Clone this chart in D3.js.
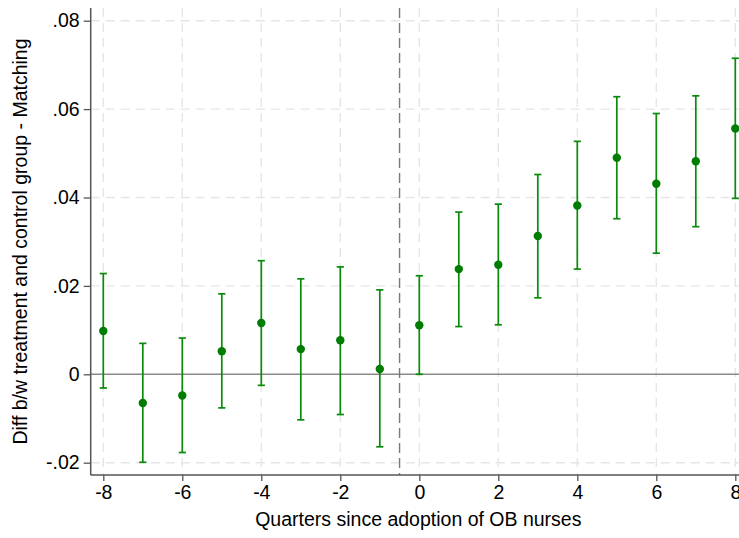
<!DOCTYPE html>
<html>
<head>
<meta charset="utf-8">
<script src="https://cdn.jsdelivr.net/npm/d3@7"></script>
<style>
	body { margin: 0; background: #fff; }
	svg { display: block; font-family: "Liberation Sans", Arial, sans-serif; }
</style>
</head>
<body>
<div id="evtViz"><svg></svg></div>
<script>
// event study estimates
var quarters = [-8, -7, -6, -5, -4, -3, -2, -1, 0, 1, 2, 3, 4, 5, 6, 7, 8];
var coef = [0.0098, -0.0065, -0.0048, 0.0052, 0.0116, 0.0057, 0.0077, 0.0012, 0.0111,
	0.0238, 0.0248, 0.0313, 0.0382, 0.0490, 0.0431, 0.0482, 0.0556];
var ciLow = [-0.0031, -0.0199, -0.0177, -0.0076, -0.0025, -0.0103, -0.0091, -0.0164, 0.0000,
	0.0108, 0.0112, 0.0173, 0.0238, 0.0352, 0.0274, 0.0334, 0.0398];
var ciHigh = [0.0228, 0.0070, 0.0082, 0.0182, 0.0257, 0.0216, 0.0243, 0.0191, 0.0223,
	0.0367, 0.0385, 0.0452, 0.0527, 0.0628, 0.0590, 0.0630, 0.0715];

var xTicks = [-8, -6, -4, -2, 0, 2, 4, 6, 8];
var yTicks = [-0.02, 0, 0.02, 0.04, 0.06, 0.08];
var yTickLabels = ["-.02", "0", ".02", ".04", ".06", ".08"];
var adoptionLine = -0.5;

;(function(){
	var w = 739;
	var h = 538;
	var r = 4.2;
	var cap = 3.6;
	var green = "#0a8a0a";
	var dotGreen = "#007c00";
	var fontSize = 19.5;

	var svg = d3.select("#evtViz svg")
		.attr("width", w)
		.attr("height", h);

	// 1) scales (pixel ranges measured from the reference)
	var xscale = d3.scaleLinear().domain([-8, 8]).range([103.3, 735.3]);
	var yscale = d3.scaleLinear().domain([-0.02, 0.08]).range([462.7, 20.7]);

	var plotLeft = 90.7;
	var plotRight = w;
	var plotTop = 8;
	var plotBottom = 475;

	var rows = quarters.map(function(q, i){
		return {q: q, b: coef[i], lo: ciLow[i], hi: ciHigh[i]};
	});

	// plain hyphen minus, like the reference (d3 would give U+2212)
	function fmtY(d){
		return yTickLabels[yTicks.indexOf(d)];
	}
	function fmtX(d){
		return String(d);
	}

	// 2) background grid
	svg.selectAll("line.y-grid")
		.data(yTicks.filter(function(d){ return d != 0; }))
		.enter().append("line")
			.attr("class", "y-grid")
			.attr("x1", plotLeft)
			.attr("x2", plotRight)
			.attr("y1", function(d){ return yscale(d); })
			.attr("y2", function(d){ return yscale(d); })
			.attr("stroke", "#e6e6e6")
			.attr("stroke-width", 1.4)
			.attr("stroke-dasharray", "9,6");

	svg.selectAll("line.x-grid")
		.data(xTicks)
		.enter().append("line")
			.attr("class", "x-grid")
			.attr("x1", function(d){ return xscale(d); })
			.attr("x2", function(d){ return xscale(d); })
			.attr("y1", plotTop)
			.attr("y2", plotBottom)
			.attr("stroke", "#e6e6e6")
			.attr("stroke-width", 1.4)
			.attr("stroke-dasharray", "9,6");

	// zero line and adoption line
	svg.append("line")
		.attr("x1", plotLeft)
		.attr("x2", plotRight)
		.attr("y1", yscale(0))
		.attr("y2", yscale(0))
		.attr("stroke", "#8a8a8a")
		.attr("stroke-width", 1.4);

	svg.append("line")
		.attr("x1", xscale(adoptionLine))
		.attr("x2", xscale(adoptionLine))
		.attr("y1", plotTop)
		.attr("y2", plotBottom)
		.attr("stroke", "#7a7a7a")
		.attr("stroke-width", 1.4)
		.attr("stroke-dasharray", "10,5");

	// 3) axes
	var yaxis = d3.axisLeft(yscale)
		.tickValues(yTicks)
		.tickFormat(fmtY)
		.tickSizeInner(7)
		.tickSizeOuter(0)
		.tickPadding(4);

	var xaxis = d3.axisBottom(xscale)
		.tickValues(xTicks)
		.tickFormat(fmtX)
		.tickSizeInner(6)
		.tickSizeOuter(0)
		.tickPadding(4);

	var gy = svg.append("g")
		.attr("transform", "translate(" + plotLeft + ",0)")
		.call(yaxis);
	gy.select(".domain").remove();
	gy.append("line")
		.attr("y1", plotTop)
		.attr("y2", plotBottom)
		.attr("stroke", "#555")
		.attr("stroke-width", 1.5);

	var gx = svg.append("g")
		.attr("transform", "translate(0," + plotBottom + ")")
		.call(xaxis);
	gx.select(".domain").remove();
	gx.append("line")
		.attr("x1", plotLeft)
		.attr("x2", plotRight)
		.attr("stroke", "#555")
		.attr("stroke-width", 1.5);

	svg.selectAll(".tick line")
		.attr("stroke", "#555")
		.attr("stroke-width", 1.3);
	svg.selectAll(".tick text")
		.attr("fill", "#000")
		.style("font-family", "'Liberation Sans', Arial, sans-serif")
		.style("font-size", fontSize + "px");

	// axis titles
	svg.append("text")
		.attr("x", (plotLeft + 745) / 2 + 0.5)
		.attr("y", 526)
		.attr("fill", "#000")
		.style("text-anchor", "middle")
		.style("font-size", fontSize + "px")
		.text("Quarters since adoption of OB nurses");

	svg.append("text")
		.attr("transform", "translate(27," + ((plotTop + plotBottom) / 2) + ") rotate(-90)")
		.attr("fill", "#000")
		.style("text-anchor", "middle")
		.style("font-size", fontSize + "px")
		.text("Diff b/w treatment and control group - Matching");

	// 4) confidence intervals and point estimates
	var g = svg.append("g").attr("class", "estimates");

	g.selectAll("line.ci")
		.data(rows)
		.enter().append("line")
			.attr("class", "ci")
			.attr("x1", function(d){ return xscale(d.q); })
			.attr("x2", function(d){ return xscale(d.q); })
			.attr("y1", function(d){ return yscale(d.lo); })
			.attr("y2", function(d){ return yscale(d.hi); })
			.attr("stroke", green)
			.attr("stroke-width", 1.7);

	g.selectAll("line.cap-hi")
		.data(rows)
		.enter().append("line")
			.attr("class", "cap-hi")
			.attr("x1", function(d){ return xscale(d.q) - cap; })
			.attr("x2", function(d){ return xscale(d.q) + cap; })
			.attr("y1", function(d){ return yscale(d.hi); })
			.attr("y2", function(d){ return yscale(d.hi); })
			.attr("stroke", green)
			.attr("stroke-width", 1.7);

	g.selectAll("line.cap-lo")
		.data(rows)
		.enter().append("line")
			.attr("class", "cap-lo")
			.attr("x1", function(d){ return xscale(d.q) - cap; })
			.attr("x2", function(d){ return xscale(d.q) + cap; })
			.attr("y1", function(d){ return yscale(d.lo); })
			.attr("y2", function(d){ return yscale(d.lo); })
			.attr("stroke", green)
			.attr("stroke-width", 1.7);

	g.selectAll("circle.data-points")
		.data(rows)
		.enter().append("circle")
			.attr("class", "data-points")
			.attr("cx", function(d){ return xscale(d.q); })
			.attr("cy", function(d){ return yscale(d.b); })
			.attr("r", r)
			.attr("fill", dotGreen);
})();
</script>
</body>
</html>
